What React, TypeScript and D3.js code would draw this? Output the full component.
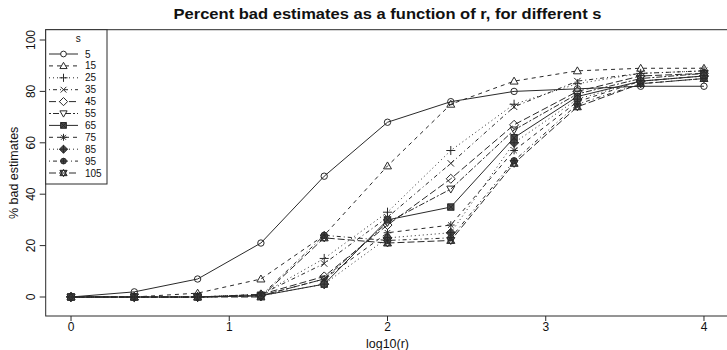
import React from "react";
import * as d3 from "d3";

const logR = [0, 0.4, 0.8, 1.2, 1.6, 2.0, 2.4, 2.8, 3.2, 3.6, 4.0];
const sValues = [5, 15, 25, 35, 45, 55, 65, 75, 85, 95, 105];

const s5 = [0, 2, 7, 21, 47, 68, 76, 80, 81, 82, 82];
const s15 = [0, 0, 1.5, 7, 24, 51, 75, 84, 88, 89, 89];
const s25 = [0, 0, 0, 1, 15, 33, 57, 75, 83, 87, 88];
const s35 = [0, 0, 0, 1, 13, 31, 52, 74, 84, 87, 88];
const s45 = [0, 0, 0, 1, 8, 28, 46, 67, 80, 86, 87];
const s55 = [0, 0, 0, 0.5, 7, 29, 42, 65, 79, 85, 87];
const s65 = [0, 0, 0, 0.5, 5, 30, 35, 62, 78, 84, 86];
const s75 = [0, 0, 0, 0.5, 7, 25, 28, 57, 76, 84, 86];
const s85 = [0, 0, 0, 0.5, 5, 23, 25, 60, 77, 84, 86];
const s95 = [0, 0, 0, 0.5, 24, 22, 23, 53, 75, 83, 85];
const s105 = [0, 0, 0, 0, 23, 21, 22, 52, 74, 83, 85];

const seriesValues = [s5, s15, s25, s35, s45, s55, s65, s75, s85, s95, s105];

const xTicks = [0, 1, 2, 3, 4];
const yTicks = [0, 20, 40, 60, 80, 100];

const title = "Percent bad estimates as a function of r, for different s";
const xLabel = "log10(r)";
const yLabel = "% bad estimates";
const legendTitle = "s";

// R line types 1..6 cycled
const dashes = [null, "4,4", "1,3", "1,3,4,3", "7,3", "2,2,6,2"];

const W = 727;
const H = 350;
const left = 45.7;
const right = 729.3;
const top = 29.7;
const bottom = 316;

const x = d3.scaleLinear().domain([-0.16, 4.16]).range([left, right]);
const y = d3.scaleLinear().domain([0, 100]).range([297, 40]);

const INK = "#2a2a2a";

function markerPath(pch: number, r: number): string {
  const p = d3.path();
  const s2 = Math.SQRT2;
  const circ = (rr: number) => {
    p.moveTo(rr, 0);
    p.arc(0, 0, rr, 0, Math.PI * 2);
  };
  const tri = (up: boolean) => {
    const a = r * 1.25;
    const hh = a * 0.866;
    const sgn = up ? -1 : 1;
    p.moveTo(0, sgn * hh * 1.15);
    p.lineTo(a, -sgn * hh * 0.85);
    p.lineTo(-a, -sgn * hh * 0.85);
    p.closePath();
  };
  const plus = (h: number) => {
    p.moveTo(-h, 0);
    p.lineTo(h, 0);
    p.moveTo(0, -h);
    p.lineTo(0, h);
  };
  const cross = (h: number) => {
    p.moveTo(-h, -h);
    p.lineTo(h, h);
    p.moveTo(-h, h);
    p.lineTo(h, -h);
  };
  const diamond = (h: number) => {
    p.moveTo(0, -h);
    p.lineTo(h, 0);
    p.lineTo(0, h);
    p.lineTo(-h, 0);
    p.closePath();
  };
  switch (pch) {
    case 1:
      circ(r);
      break;
    case 2:
      tri(true);
      break;
    case 3:
      plus(r * s2);
      break;
    case 4:
      cross(r);
      break;
    case 5:
      diamond(r * s2);
      break;
    case 6:
      tri(false);
      break;
    case 7:
      p.rect(-r, -r, 2 * r, 2 * r);
      cross(r);
      break;
    case 8:
      plus(r * s2 * 0.85);
      cross(r * 0.85);
      break;
    case 9:
      diamond(r * s2);
      plus(r * s2);
      break;
    case 10:
      circ(r);
      plus(r);
      break;
    case 11:
      tri(true);
      tri(false);
      break;
  }
  return p.toString();
}

const markerFill = (pch: number, bg: string) => (pch >= 7 ? "#4a4a4a" : bg);

export default function App() {
  const line = d3
    .line<number>()
    .x((_, i) => x(logR[i]))
    .y((d) => y(d));

  const r = 3.2;
  const legX0 = left;
  const legY0 = top;
  const legW = 107 - left;
  const legH = 184 - top;
  const legRowY = (i: number) => 54 + i * 11.9;

  return (
    <svg
      width={W}
      height={H}
      style={{ position: "fixed", left: 0, top: 0, background: "#fff" }}
      fontFamily="'Liberation Sans', Arial, Helvetica, sans-serif"
    >
      <rect x={0} y={0} width={W} height={H} fill="#fff" />
      {/* title */}
      <text
        x={(left + right) / 2}
        y={19}
        textAnchor="middle"
        fontWeight="bold"
        fontSize={15}
        fill="#111"
        textLength={428}
        lengthAdjust="spacingAndGlyphs"
      >
        {title}
      </text>

      {/* series */}
      {seriesValues.map((vals, k) => (
        <g key={k}>
          <path
            d={line(vals) || ""}
            fill="none"
            stroke={INK}
            strokeWidth={1}
            strokeDasharray={dashes[k % 6] || undefined}
          />
          {vals.map((v, i) => (
            <path
              key={i}
              transform={`translate(${x(logR[i])},${y(v)})`}
              d={markerPath(k + 1, r)}
              fill={markerFill(k + 1, "none")}
              stroke={INK}
              strokeWidth={1}
            />
          ))}
        </g>
      ))}

      {/* box */}
      <rect x={left} y={top} width={right - left} height={bottom - top} fill="none" stroke={INK} strokeWidth={1} />

      {/* x axis */}
      <g>
        {xTicks.map((t) => (
          <g key={t}>
            <line x1={x(t)} x2={x(t)} y1={bottom} y2={bottom + 5} stroke={INK} />
            <text x={x(t)} y={bottom + 15} textAnchor="middle" fontSize={12} fill="#111">
              {t}
            </text>
          </g>
        ))}
        <text x={(left + right) / 2} y={348} textAnchor="middle" fontSize={12.5} fill="#111">
          {xLabel}
        </text>
      </g>

      {/* y axis */}
      <g>
        {yTicks.map((t) => (
          <g key={t}>
            <line x1={left - 6} x2={left} y1={y(t)} y2={y(t)} stroke={INK} />
            <text
              transform={`translate(${left - 11},${y(t)}) rotate(-90)`}
              textAnchor="middle"
              fontSize={12}
              fill="#111"
            >
              {t}
            </text>
          </g>
        ))}
        <text
          transform={`translate(18,${(top + bottom) / 2}) rotate(-90)`}
          textAnchor="middle"
          fontSize={12.5}
          fill="#111"
        >
          {yLabel}
        </text>
      </g>

      {/* legend */}
      <g>
        <rect x={legX0} y={legY0} width={legW} height={legH} fill="#fff" stroke={INK} strokeWidth={1} />
        <text x={legX0 + legW / 2 + 2} y={42} textAnchor="middle" fontSize={10} fill="#111">
          {legendTitle}
        </text>
        {sValues.map((s, k) => (
          <g key={s}>
            <line
              x1={49}
              x2={78}
              y1={legRowY(k)}
              y2={legRowY(k)}
              stroke={INK}
              strokeDasharray={dashes[k % 6] || undefined}
            />
            <path
              transform={`translate(63.5,${legRowY(k)})`}
              d={markerPath(k + 1, r * 0.9)}
              fill={markerFill(k + 1, "#fff")}
              stroke={INK}
            />
            <text x={85} y={legRowY(k) + 3.5} fontSize={10} fill="#111">
              {s}
            </text>
          </g>
        ))}
      </g>
    </svg>
  );
}
